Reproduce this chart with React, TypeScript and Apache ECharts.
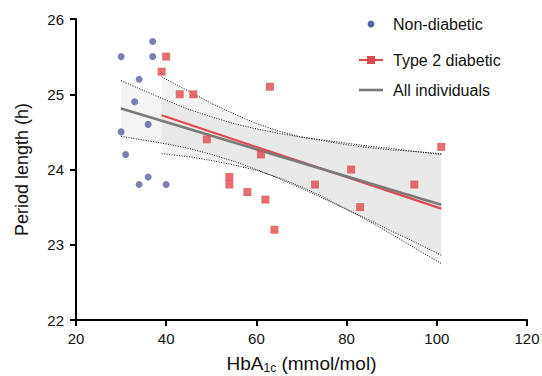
import React, { useEffect, useRef } from "react";
import * as echarts from "echarts";

// Non-diabetic individuals: [HbA1c, period length]
const nonDiabetic: number[][] = [
  [30, 25.5], [30, 24.5], [31, 24.2], [33, 24.9], [34, 25.2], [34, 23.8],
  [36, 24.6], [36, 23.9], [37, 25.7], [37, 25.5], [40, 23.8],
];

// Type 2 diabetic individuals
const type2: number[][] = [
  [39, 25.3], [40, 25.5], [43, 25.0], [46, 25.0], [49, 24.4], [54, 23.9],
  [54, 23.8], [58, 23.7], [61, 24.2], [62, 23.6], [63, 25.1], [64, 23.2],
  [73, 23.8], [81, 24.0], [83, 23.5], [95, 23.8], [101, 24.3],
];

// Regression lines (end points)
const allFit: number[][] = [[30, 24.81], [101, 23.53]];
const t2Fit: number[][] = [[39, 24.72], [101, 23.48]];

// 95% confidence bands
const allBandX = [30, 35, 40, 45, 50, 55, 60, 65, 70, 75, 80, 85, 90, 95, 101];
const allUpper = [25.18, 25.05, 24.92, 24.8, 24.7, 24.61, 24.54, 24.48, 24.43, 24.39, 24.35, 24.31, 24.28, 24.24, 24.2];
const allLower = [24.44, 24.39, 24.34, 24.28, 24.2, 24.11, 24.0, 23.88, 23.75, 23.61, 23.47, 23.33, 23.18, 23.04, 22.86];

const t2BandX = [39, 45, 50, 55, 60, 65, 70, 75, 80, 85, 90, 95, 101];
const t2Upper = [25.23, 25.04, 24.88, 24.74, 24.61, 24.51, 24.43, 24.38, 24.33, 24.29, 24.26, 24.24, 24.21];
const t2Lower = [24.21, 24.17, 24.12, 24.06, 23.99, 23.89, 23.77, 23.63, 23.47, 23.31, 23.14, 22.96, 22.75];

const xTicks = [20, 40, 60, 80, 100, 120];
const yTicks = [22, 23, 24, 25, 26];

const zip = (xs: number[], ys: number[]) => xs.map((x, i) => [x, ys[i]]);

const FONT = "Liberation Sans, Arial, Helvetica, sans-serif";
const BLUE = "#5a62a0";
const RED = "#e04a4f";
const GRAY = "#7a7a7a";

function bandSeries(name: string, xs: number[], up: number[], lo: number[]) {
  return {
    type: "custom",
    name,
    silent: true,
    z: 1,
    data: [[xs[0], up[0]]],
    renderItem: (_params: any, api: any) => {
      const pts: number[][] = [];
      xs.forEach((x, i) => pts.push(api.coord([x, up[i]])));
      for (let i = xs.length - 1; i >= 0; i--) pts.push(api.coord([xs[i], lo[i]]));
      return {
        type: "polygon",
        shape: { points: pts },
        style: { fill: "rgba(0,0,0,0.045)", stroke: "none" },
      };
    },
  };
}

function dotted(xs: number[], ys: number[]) {
  return {
    type: "line",
    silent: true,
    z: 2,
    data: zip(xs, ys),
    symbol: "none",
    lineStyle: { color: "#111", width: 1, type: [1, 1.5] },
  };
}

export default function App() {
  const ref = useRef<HTMLDivElement>(null);
  useEffect(() => {
    if (!ref.current) return;
    const chart = echarts.init(ref.current, undefined, { renderer: "svg" });
    const axisCommon = {
      axisLine: { show: true, lineStyle: { color: "#000", width: 2 } },
      axisTick: { show: true, inside: false, length: 6, lineStyle: { color: "#000", width: 2 } },
      splitLine: { show: false },
    };
    chart.setOption({
      animation: false,
      backgroundColor: "#fff",
      textStyle: { fontFamily: FONT },
      grid: { left: 76, right: 15, top: 19, bottom: 56, containLabel: false, outerBoundsMode: "none" },
      xAxis: {
        type: "value",
        min: xTicks[0],
        max: xTicks[xTicks.length - 1],
        interval: 20,
        ...axisCommon,
        axisLabel: { color: "#111", fontSize: 15, margin: 11, fontFamily: FONT },
        name: "{a|HbA}{s|1c}{a| (mmol/mol)}",
        nameLocation: "middle",
        nameGap: 33,
        nameTextStyle: {
          rich: {
            a: { fontSize: 19, color: "#111", fontFamily: FONT, lineHeight: 20 },
            s: { fontSize: 12, color: "#111", fontFamily: FONT, lineHeight: 20, padding: [9, 0, 0, 0] },
          },
        },
      },
      yAxis: {
        type: "value",
        min: yTicks[0],
        max: yTicks[yTicks.length - 1],
        interval: 1,
        ...axisCommon,
        axisLabel: { color: "#111", fontSize: 15, margin: 12, fontFamily: FONT },
        name: "Period length (h)",
        nameLocation: "middle",
        nameGap: 45,
        nameTextStyle: { fontSize: 18, color: "#111", fontFamily: FONT },
      },
      series: [
        bandSeries("allBand", allBandX, allUpper, allLower),
        bandSeries("t2Band", t2BandX, t2Upper, t2Lower),
        dotted(allBandX, allUpper),
        dotted(allBandX, allLower),
        dotted(t2BandX, t2Upper),
        dotted(t2BandX, t2Lower),
        {
          type: "line",
          name: "Type 2 diabetic fit",
          data: t2Fit,
          symbol: "none",
          z: 3,
          lineStyle: { color: RED, width: 2.2 },
        },
        {
          type: "line",
          name: "All individuals",
          data: allFit,
          symbol: "none",
          z: 4,
          lineStyle: { color: GRAY, width: 2.6 },
        },
        {
          type: "scatter",
          name: "Non-diabetic",
          data: nonDiabetic,
          symbol: "circle",
          symbolSize: 7,
          z: 5,
          itemStyle: { color: BLUE },
        },
        {
          type: "scatter",
          name: "Type 2 diabetic",
          data: type2,
          symbol: "rect",
          symbolSize: 8,
          z: 5,
          itemStyle: { color: RED },
        },
      ],
      graphic: [
        { type: "circle", shape: { cx: 371, cy: 24, r: 3.5 }, style: { fill: BLUE } },
        { type: "text", x: 393, y: 24, style: { text: "Non-diabetic", fill: "#111", font: `16px ${FONT}`, verticalAlign: "middle" } },
        { type: "line", shape: { x1: 359, y1: 60, x2: 383, y2: 60 }, style: { stroke: RED, lineWidth: 2 } },
        { type: "rect", shape: { x: 367, y: 56, width: 8, height: 8 }, style: { fill: RED } },
        { type: "text", x: 393, y: 60, style: { text: "Type 2 diabetic", fill: "#111", font: `16px ${FONT}`, verticalAlign: "middle" } },
        { type: "line", shape: { x1: 359, y1: 90, x2: 383, y2: 90 }, style: { stroke: GRAY, lineWidth: 2.6 } },
        { type: "text", x: 393, y: 90, style: { text: "All individuals", fill: "#111", font: `16px ${FONT}`, verticalAlign: "middle" } },
      ],
    });
    return () => chart.dispose();
  }, []);
  return <div ref={ref} style={{ width: 542, height: 376, position: "absolute", left: 0, top: 0 }} />;
}
